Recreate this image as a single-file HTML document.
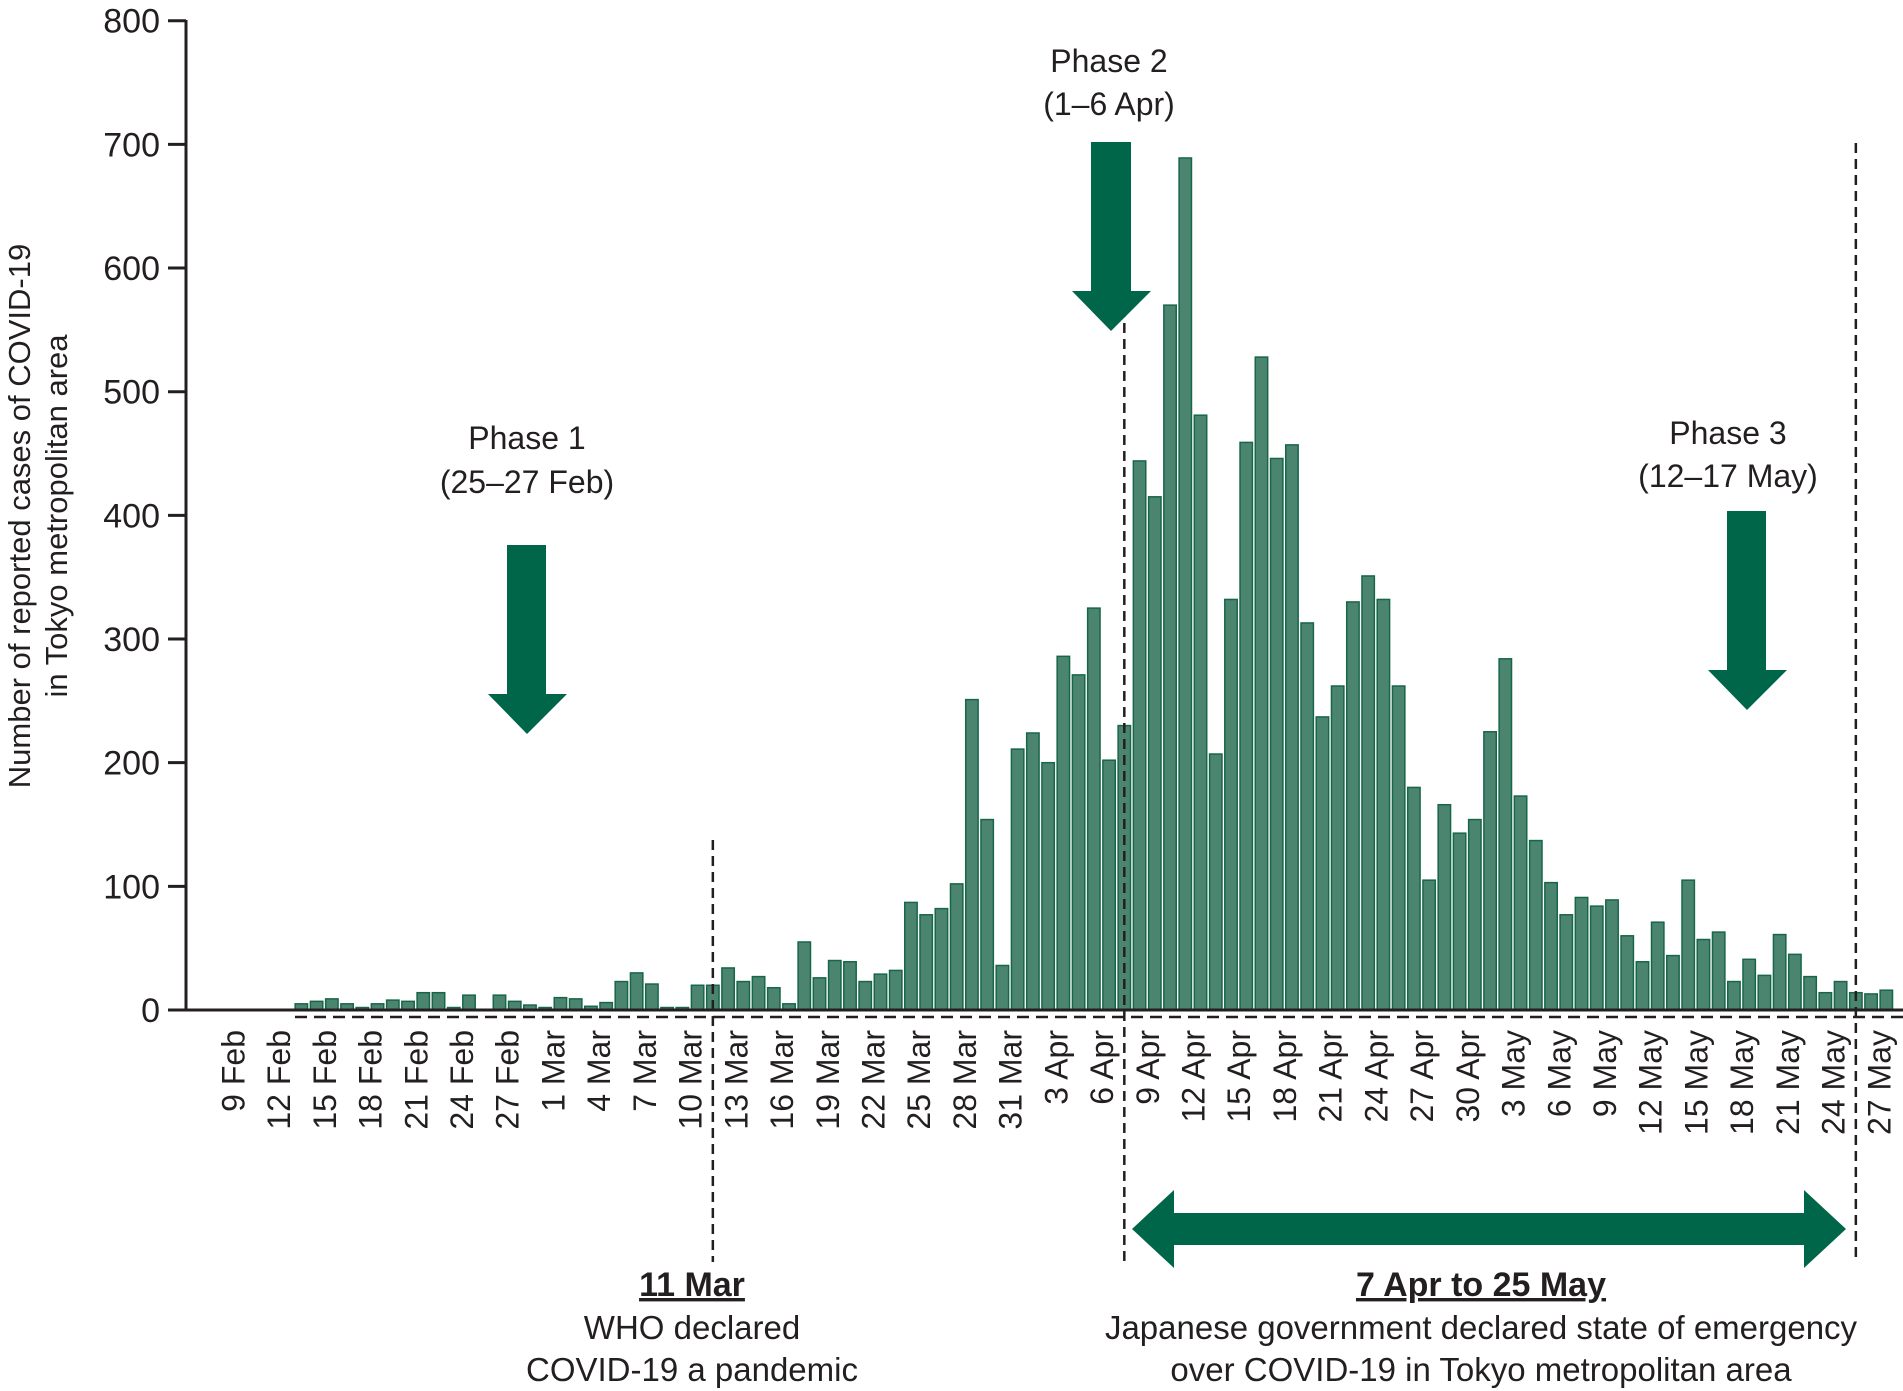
<!DOCTYPE html>
<html><head><meta charset="utf-8">
<style>
html,body{margin:0;padding:0;background:#fff;}
svg{display:block;}
text{font-family:"Liberation Sans",sans-serif;fill:#231f20;}
</style></head>
<body>
<svg id="chart" width="1903" height="1391" viewBox="0 0 1903 1391" xmlns="http://www.w3.org/2000/svg">
<g id="bars"></g>
<g id="axes"></g>
<g id="xlabels"></g>
<text transform="translate(30,516) rotate(-90)" text-anchor="middle" font-size="31">Number of reported cases of COVID-19</text>
<text transform="translate(67,516) rotate(-90)" text-anchor="middle" font-size="31">in Tokyo metropolitan area</text>

<g>
<text x="527" y="449" text-anchor="middle" font-size="32">Phase 1</text>
<text x="527" y="493" text-anchor="middle" font-size="32">(25–27 Feb)</text>
<polygon points="507,545 546,545 546,694 567,694 527,734 488,694 507,694" fill="#00664a"/>
</g>
<g>
<text x="1109" y="72" text-anchor="middle" font-size="32">Phase 2</text>
<text x="1109" y="115" text-anchor="middle" font-size="32">(1–6 Apr)</text>
<polygon points="1091,142 1131,142 1131,291 1151,291 1111,331 1072,291 1091,291" fill="#00664a"/>
</g>
<g>
<text x="1728" y="444" text-anchor="middle" font-size="32">Phase 3</text>
<text x="1728" y="487" text-anchor="middle" font-size="32">(12–17 May)</text>
<polygon points="1727,511 1766,511 1766,670 1787,670 1747,710 1708,670 1727,670" fill="#00664a"/>
</g>

<polygon points="1132,1229 1174,1190 1174,1213 1804,1213 1804,1190 1846,1229 1804,1268 1804,1245 1174,1245 1174,1268" fill="#00664a"/>

<g>
<text x="692" y="1296" text-anchor="middle" font-size="34" text-decoration="underline" font-weight="bold">11 Mar</text>
<text x="692" y="1339" text-anchor="middle" font-size="33">WHO declared</text>
<text x="692" y="1381" text-anchor="middle" font-size="33">COVID-19 a pandemic</text>
</g>
<g>
<text x="1481" y="1296" text-anchor="middle" font-size="34" text-decoration="underline" font-weight="bold">7 Apr to 25 May</text>
<text x="1481" y="1339" text-anchor="middle" font-size="33">Japanese government declared state of emergency</text>
<text x="1481" y="1381" text-anchor="middle" font-size="33">over COVID-19 in Tokyo metropolitan area</text>
</g>
</svg>
<script>
// Day index 0 = 9 Feb; values start at 13 Feb
const startDay = 4;
const cases = [
 5,7,9,5,2,5,8,7,14,14,2,12,0,12,7,4,2,
 10,9,3,6,23,30,21,2,2,20,20,34,23,27,18,5,55,26,40,
 39,23,29,32,87,77,82,102,251,154,36,211,
 224,200,286,271,325,202,230,444,415,570,689,481,207,332,459,528,446,457,313,237,262,330,351,332,262,180,105,166,143,154,
 225,284,173,137,103,77,91,84,89,60,39,71,44,105,57,63,23,41,28,61,45,27,14,23,14,13,16
];
const tickLabels = ["9 Feb","12 Feb","15 Feb","18 Feb","21 Feb","24 Feb","27 Feb","1 Mar","4 Mar","7 Mar","10 Mar","13 Mar","16 Mar","19 Mar","22 Mar","25 Mar","28 Mar","31 Mar","3 Apr","6 Apr","9 Apr","12 Apr","15 Apr","18 Apr","21 Apr","24 Apr","27 Apr","30 Apr","3 May","6 May","9 May","12 May","15 May","18 May","21 May","24 May","27 May"];
const tickDays = [0,3,6,9,12,15,18,21,24,27,30,33,36,39,42,45,48,51,54,57,60,63,66,69,72,75,78,81,84,87,90,93,96,99,102,105,108];
const yTicks = [0,100,200,300,400,500,600,700,800];
const eventDays = [31,58,106];

const NS="http://www.w3.org/2000/svg";
function xDay(d){return 240.4 + d*15.24;}
function yVal(v){return 1010 - v*1.2366;}
function mk(tag,attrs,parent){const e=document.createElementNS(NS,tag);for(const k in attrs)e.setAttribute(k,attrs[k]);parent.appendChild(e);return e;}

const bars=document.getElementById('bars');
cases.forEach((v,i)=>{
  const cx=xDay(startDay+i);
  const r=mk('rect',{x:cx-6.2,y:yVal(v),width:12.4,height:Math.max(0,1010-yVal(v)),fill:'#4b8570',stroke:'#17664a','stroke-width':1.5},bars);
  
  
});

const axes=document.getElementById('axes');
const yl=mk('line',{x1:186,y1:20,x2:186,y2:1011,stroke:'#231f20','stroke-width':3},axes);


yTicks.forEach(t=>{
  const y=yVal(t);
  const tk=mk('line',{x1:168,y1:y,x2:186,y2:y,stroke:'#231f20','stroke-width':3},axes);
  
  
  const tx=mk('text',{x:160,y:y+12,'text-anchor':'end','font-size':34},axes);
  tx.textContent=t;
  
  
});
const xl=mk('line',{x1:186,y1:1010,x2:1903,y2:1010,stroke:'#231f20','stroke-width':3},axes);


const dl=mk('line',{x1:295,y1:1017,x2:1903,y2:1017,stroke:'#231f20','stroke-width':2.5,'stroke-dasharray':'12,7'},axes);


const eventTops=[840,291,143];
eventDays.forEach((d,i)=>{
  const l=mk('line',{x1:xDay(d),y1:eventTops[i],x2:xDay(d),y2:1262,stroke:'#231f20','stroke-width':2.5,'stroke-dasharray':'10,6'},axes);
  
  
});

const xlg=document.getElementById('xlabels');
tickLabels.forEach((lab,i)=>{
  const x=xDay(tickDays[i])+4;
  const t=mk('text',{transform:`translate(${x},1030) rotate(-90)`,'text-anchor':'end','font-size':32},xlg);
  t.textContent=lab;
  
  
});
</script>
</body></html>
